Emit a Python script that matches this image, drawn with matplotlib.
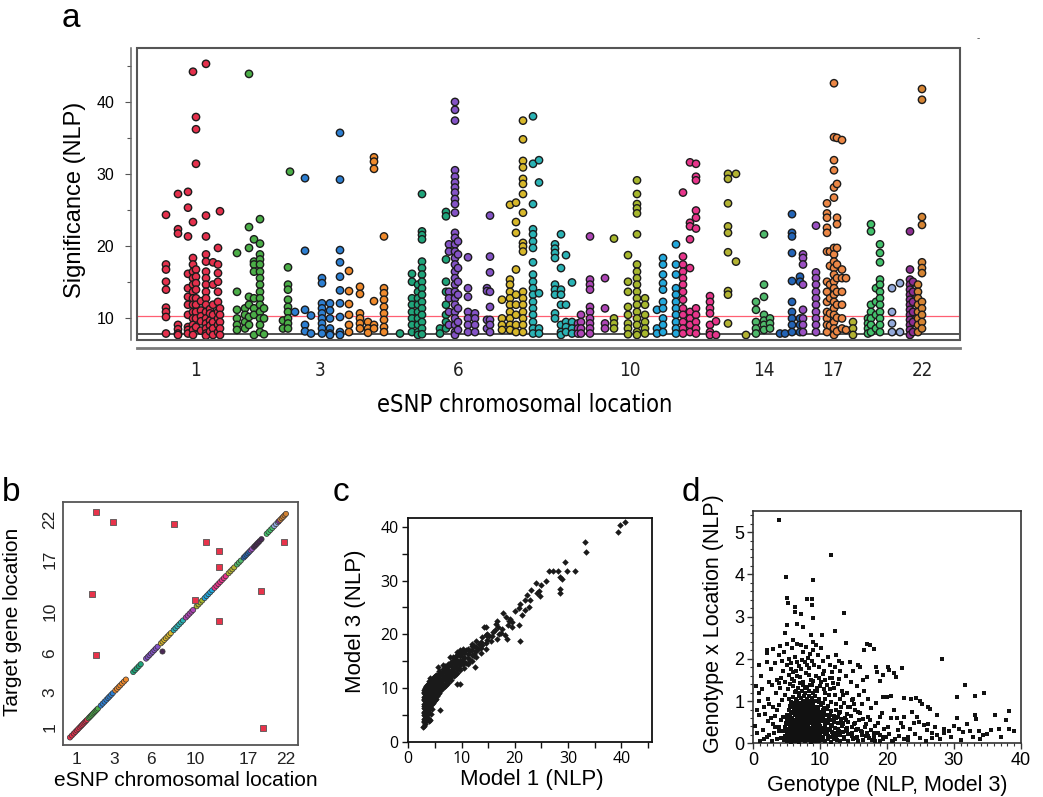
import matplotlib
matplotlib.use("Agg")
import matplotlib.pyplot as plt
from matplotlib import font_manager
from matplotlib.patches import Rectangle
from matplotlib.ticker import MultipleLocator, FixedLocator

# ------------------------------------------------------------------ data
chrom_colors = {1: '#e5304c', 2: '#4bae47', 3: '#2d7fd2', 4: '#f08a2c', 5: '#1fa47a',
                6: '#8453c6', 7: '#d8b82b', 8: '#2ab3b5', 9: '#ae45b6', 10: '#a7b72d',
                11: '#22a8dc', 12: '#e7358b', 13: '#b3b332', 14: '#4fb96b', 15: '#2364b6',
                16: '#9a50c2', 17: '#ec8745', 18: '#43c26c', 19: '#94aadb', 20: '#8f2f93',
                21: '#4a2a55', 22: '#d58433'}

# panel a: genome position of eSNP (arbitrary genome units) and significance
chrom_tick_labels = ['1', '3', '6', '10', '14', '17', '22']
a_chrom_tick_pos = [58, 183, 321, 493, 627, 696, 785]
black_line_nlp = 7.7
red_line_nlp = 10.3

a_columns = [
    (1, 29, [24.3, 17.4, 16.7, 15.0, 13.9, 11.4, 10.8, 10.1, 7.8]),
    (1, 41, [27.2, 22.3, 21.7, 9.0, 8.4, 7.8, 7.6]),
    (1, 51, [27.5, 25.3, 21.3, 16.1, 14.1, 12.9, 11.8, 10.4, 8.7, 8.3, 7.8]),
    (1, 56, [44.2, 23.3, 18.3, 17.4, 16.4, 15.5, 14.6, 13.6, 12.7, 11.8, 10.8, 9.9, 9.0, 8.3, 7.6]),
    (1, 59, [37.9, 36.2, 31.4, 16.7, 15.7, 14.8, 13.9, 12.7, 11.8, 10.8, 9.9, 8.7]),
    (1, 64, [12.3, 11.0, 10.2, 9.5, 8.2]),
    (1, 69, [45.3, 24.2, 21.3, 18.8, 17.8, 16.4, 15.5, 14.6, 13.6, 12.7, 11.8, 10.8, 9.9, 9.2, 8.5, 7.8, 7.5]),
    (1, 73, [11.2, 10.6, 9.6, 8.9, 8.1]),
    (1, 76, [17.7, 14.6, 11.8, 10.4, 9.4, 8.5, 7.6]),
    (1, 81, [19.7, 17.4, 16.2, 15.0, 13.6, 12.2, 10.8, 9.9, 9.0, 8.0]),
    (1, 83, [24.8, 11.3, 10.4, 9.4, 8.5, 7.6]),
    (2, 100, [19.0, 13.6, 11.1, 9.9, 9.0, 8.3]),
    (2, 108, [11.3, 10.4, 9.4, 8.5]),
    (2, 112, [43.9, 22.6, 19.7, 12.9, 11.8, 10.1, 9.0]),
    (2, 117, [20.9, 17.8, 17.4, 16.4, 12.7, 11.3, 10.4, 7.6]),
    (2, 123, [23.7, 20.3, 18.8, 18.1, 17.4, 16.4, 15.5, 14.6, 13.6, 12.7, 11.8, 10.8, 9.9, 9.0, 8.0]),
    (2, 127, [11.3, 9.9, 7.7]),
    (2, 146, [9.6, 8.5]),
    (2, 151, [17.0, 14.6, 13.9, 12.5, 11.5, 10.8, 9.9, 9.2, 8.5]),
    (2, 153, [30.3]),
    (3, 158, [10.8]),
    (3, 168, [29.4, 19.3, 11.1, 9.0, 8.1]),
    (3, 174, [10.3, 7.8]),
    (3, 185, [15.5, 14.8, 12.0, 11.3, 10.6, 9.9, 9.2, 8.5, 7.8]),
    (3, 193, [12.0, 11.0, 9.9, 8.5, 7.8, 7.6]),
    (3, 203, [35.7, 29.2, 19.4, 17.7, 15.7, 13.8, 12.0, 10.1, 8.0, 7.6]),
    (4, 212, [16.5, 13.7, 11.9, 10.4, 9.0, 8.0]),
    (4, 223, [14.3, 13.3, 10.6, 9.9, 9.2, 8.5]),
    (4, 231, [9.4, 8.5, 7.9]),
    (4, 237, [32.3, 31.7, 30.7, 12.3, 9.0, 8.5]),
    (4, 247, [21.3, 14.1, 13.4, 12.5, 11.5, 10.6, 9.7, 8.7, 8.0]),
    (5, 263, [7.8]),
    (5, 275, [16.1, 15.0, 12.7, 11.8, 10.8, 9.9, 9.0, 8.0]),
    (5, 281, [14.6, 13.6, 12.7, 11.8, 10.8, 9.9, 9.0, 8.0, 7.6]),
    (5, 285, [27.2, 22.0, 21.5, 20.9, 17.8, 16.9, 16.0, 15.0, 14.1, 13.2, 12.2, 11.3, 10.4, 9.4, 8.5, 7.7]),
    (5, 303, [8.5, 7.8]),
    (5, 309, [24.7, 24.1, 18.1, 15.0, 13.6, 11.8, 10.4, 9.4, 8.5]),
    (6, 312, [20.2, 19.2, 13.6, 12.7, 10.8, 9.0]),
    (6, 318, [40.0, 38.9, 37.4, 30.5, 29.6, 28.8, 28.1, 27.4, 26.5, 25.8, 24.6, 21.8, 21.1, 20.2,
              19.2, 18.3, 17.4, 16.4, 15.5, 14.6, 13.6, 12.7, 11.8, 10.8, 9.9, 9.0, 8.0, 7.6]),
    (6, 321, [20.6, 18.8, 16.9, 15.0, 13.2, 11.3, 9.4, 8.3]),
    (6, 331, [18.4, 14.1, 12.9, 10.8, 9.9, 9.0, 8.0]),
    (6, 338, [10.6, 9.9, 9.0, 8.0]),
    (6, 350, [14.1, 13.7, 9.7, 8.5]),
    (6, 353, [24.2, 18.5, 16.3, 13.6, 11.5, 9.7, 9.0, 8.0]),
    (7, 365, [12.5, 9.9, 9.0, 8.3]),
    (7, 373, [25.7, 15.3, 14.6, 13.6, 12.7, 11.8, 10.8, 9.9, 9.0, 8.3]),
    (7, 379, [26.0, 23.3, 21.8, 16.7, 13.2, 11.8, 10.4, 9.0, 8.0]),
    (7, 386, [37.4, 34.8, 31.8, 30.9, 29.3, 28.6, 27.2, 24.6, 20.4, 19.9, 19.2, 13.6, 12.7, 11.8,
              10.8, 9.9, 9.0, 8.0]),
    (8, 396, [38.0, 31.4, 25.8, 22.3, 21.6, 20.6, 19.7, 17.7, 16.0, 15.0, 14.1, 13.2, 12.2, 11.3,
              10.4, 9.4, 8.5, 7.8]),
    (8, 402, [31.9, 28.8, 13.4, 8.5, 7.8]),
    (8, 418, [20.2, 19.6, 19.0, 18.3, 14.6, 13.9, 13.2, 10.6, 9.9]),
    (8, 424, [21.6, 16.9, 13.9, 13.2, 11.8, 9.0, 8.0, 7.6]),
    (8, 429, [18.7, 11.8, 9.4, 8.7, 8.0]),
    (8, 435, [14.9, 9.4, 8.5, 7.8]),
    (9, 441, [9.2, 8.5, 7.8]),
    (9, 444, [10.4, 9.4, 8.5, 7.8]),
    (9, 453, [21.3, 15.3, 14.6, 13.9, 11.5, 10.8, 9.9, 9.2, 8.5, 7.8]),
    (9, 468, [15.5, 11.3, 9.2, 8.5]),
    (10, 477, [21.0, 9.9, 9.2, 8.5]),
    (10, 491, [18.7, 15.0, 13.6, 11.5, 10.4, 9.2, 8.5, 7.7]),
    (10, 500, [29.1, 27.2, 25.8, 25.2, 24.5, 21.6, 17.4, 16.4, 15.5, 14.6, 13.6, 12.7, 11.8, 10.8,
               9.9, 9.0, 8.0, 7.6]),
    (10, 508, [12.7, 11.8, 10.4, 9.4, 8.5, 7.8]),
    (11, 520, [11.1, 8.5, 7.8]),
    (11, 526, [18.3, 17.4, 16.0, 14.8, 13.9, 12.2, 11.3, 9.9, 9.0, 8.0]),
    (11, 539, [20.2, 17.4, 16.0, 14.1, 13.2, 12.2, 11.3, 10.4, 9.4, 8.5, 7.8]),
    (12, 546, [27.4, 18.5, 17.4, 16.4, 15.5, 14.6, 13.6, 12.5, 11.3, 10.4, 9.4, 8.5, 7.8]),
    (12, 553, [31.6, 23.2, 22.7, 20.9, 16.9, 10.8, 9.9, 9.0, 8.0]),
    (12, 559, [31.4, 29.6, 29.1, 24.9, 23.9, 22.4, 11.3, 10.4, 9.4, 8.5, 7.8]),
    (12, 573, [13.0, 12.2, 11.3, 10.6, 9.0, 8.0, 7.6]),
    (12, 579, [9.5, 7.6]),
    (13, 591, [30.0, 29.3, 25.9, 22.7, 21.8, 19.1, 13.7, 13.2, 9.2]),
    (13, 599, [30.0, 17.8]),
    (13, 609, [7.6]),
    (14, 619, [12.2, 11.1, 9.4, 8.5, 7.8]),
    (14, 627, [21.6, 14.6, 12.9, 10.4, 9.6, 9.0, 8.3]),
    (14, 633, [9.9, 9.2, 8.5]),
    (15, 643, [7.8]),
    (15, 648, [7.8]),
    (15, 655, [24.4, 21.8, 21.3, 19.0, 15.1, 12.2, 10.8, 9.9, 9.0, 8.0]),
    (15, 663, [15.7, 15.0, 9.9, 9.0, 8.0]),
    (16, 666, [18.8, 18.3, 17.4, 14.6, 11.1, 9.9, 9.0, 8.0]),
    (16, 679, [22.8, 16.3, 15.5, 14.6, 13.6, 12.7, 11.8, 10.8, 9.9, 9.0, 8.0]),
    (17, 690, [25.9, 24.5, 23.9, 22.5, 21.8, 19.2, 15.0, 13.6, 12.2, 10.8, 9.9, 9.0, 8.0]),
    (17, 693, [19.2, 17.2, 14.6, 12.7, 10.6, 8.9]),
    (17, 697, [42.6, 35.1, 31.9, 30.5, 28.1, 26.7, 19.7, 18.8, 17.8, 16.9, 16.0, 15.0, 14.1, 13.2,
               12.2, 11.3, 10.4, 9.4, 8.5, 7.6]),
    (17, 700, [35.0, 28.6, 23.9, 23.0, 19.7, 17.4, 15.5, 13.6, 11.8, 10.0, 8.1]),
    (17, 705, [34.7, 16.7, 15.5, 13.6, 11.8, 9.9, 8.5]),
    (17, 709, [15.5, 8.3]),
    (13, 716, [9.4, 8.5, 7.6]),
    (18, 731, [9.9, 9.2, 8.5, 7.8]),
    (18, 734, [23.0, 22.0, 11.8, 10.8, 9.9, 9.0, 8.0]),
    (18, 739, [14.1, 12.2, 10.4, 8.5]),
    (18, 743, [20.2, 19.0, 17.7, 15.3, 14.6, 13.6, 12.7, 11.8, 10.8, 9.9, 9.0, 8.0]),
    (19, 755, [14.1, 10.8, 9.2, 8.0]),
    (19, 763, [14.8, 8.0]),
    (20, 773, [22.0, 16.7, 15.3, 14.6, 13.9, 13.2, 12.5, 11.8, 11.1, 10.4, 9.7, 9.0, 8.3, 7.6]),
    (20, 776, [15.0, 13.6, 12.2, 10.8, 9.4, 8.0]),
    (22, 781, [14.6, 13.6, 12.7, 11.8, 10.8, 9.9, 9.0, 8.0]),
    (22, 785, [41.8, 40.3, 24.0, 22.9, 17.7, 16.9, 16.2, 12.2, 11.3, 10.4, 9.4, 8.5]),
]

# panel b: eSNP location vs target gene location (genome units, 0-100)
b_x_tick_pos = [6.0, 21.8, 37.4, 56.3, 79.0, 94.9]
b_y_tick_pos = [7.3, 21.9, 37.9, 54.8, 76.3, 92.7]
b_tick_labels = ['1', '3', '6', '10', '17', '22']
b_cis_chrom = ([1] * 13 + [2] * 9 + [3] * 8 + [4] * 7 + [5] * 5 + [6] * 8 + [7] * 7 + [8] * 6 +
               [9] * 5 + [10] * 4 + [11] * 5 + [12] * 7 + [13] * 4 + [14] * 3 + [15] * 5 +
               [16] * 2 + [21] * 6 + [18] * 4 + [19] * 3 + [20] * 1 + [22] * 5)
b_cis_esnp_pos = [3.1, 3.9, 4.7, 5.4, 6.0, 6.6, 7.2, 7.8, 8.3, 8.8, 9.3, 9.8, 10.3,
                  11.0, 11.5, 12.0, 12.5, 13.0, 13.5, 14.0, 14.5, 15.0,
                  16.2, 17.0, 17.8, 18.6, 19.3, 19.9, 20.6, 21.3,
                  22.4, 23.1, 23.8, 24.5, 25.3, 26.1, 26.9,
                  30.0, 30.8, 31.6, 32.4, 33.2,
                  35.5, 36.2, 36.9, 37.6, 38.3, 39.0, 39.7, 40.4,
                  41.8, 42.5, 43.2, 43.9, 44.6, 45.3, 46.0,
                  47.2, 48.0, 48.8, 49.6, 50.4, 51.2,
                  52.4, 53.2, 54.0, 54.8, 55.5,
                  57.0, 57.8, 58.6, 59.4,
                  60.4, 61.2, 62.0, 62.8, 63.6,
                  64.6, 65.4, 66.2, 67.0, 67.8, 68.6, 69.4,
                  70.6, 71.4, 72.2, 73.0,
                  74.2, 75.0, 75.8,
                  77.0, 77.6, 78.2, 78.8, 79.4,
                  80.0, 80.6,
                  81.4, 82.0, 82.6, 83.2, 83.8, 84.6,
                  86.8, 87.6, 88.4, 89.2,
                  90.0, 90.8, 91.6,
                  92.0,
                  92.6, 93.2, 93.8, 94.4, 95.0]
b_cis_gene_pos = b_cis_esnp_pos  # cis: target gene sits at the eSNP location
b_near_esnp = [42.1]
b_near_gene = [38.8]
b_trans_esnp = [14.2, 21.5, 47.4, 61.0, 66.6, 66.6, 12.3, 56.3, 84.3, 66.6, 14.2, 94.2, 85.4]
b_trans_gene = [95.9, 91.5, 90.7, 83.6, 79.7, 73.0, 61.9, 59.6, 63.3, 51.0, 37.0, 83.6, 7.1]

# panel c: Model 1 vs Model 3 NLP
c_sparse = [(40.6, 40.9), (39.7, 40.3), (39.4, 39.0), (33.1, 37.2), (33.3, 35.4), (29.5, 33.5),
            (31.25, 31.8), (29.8, 31.8), (28.1, 31.8), (27.2, 31.8), (26.4, 31.8), (28.4, 30.7),
            (28.9, 30.2), (28.4, 28.4), (28.5, 27.6), (25.8, 29.9), (25.0, 29.2), (23.9, 29.6),
            (23.1, 28.2), (24.6, 28.1), (24.8, 27.2), (24.1, 27.6), (22.2, 27.3), (22.8, 26.4),
            (21.9, 26.4), (20.9, 25.6), (20.8, 24.9), (20.0, 24.4), (22.0, 24.5), (22.7, 25.0),
            (21.3, 23.6), (19.1, 22.8), (19.5, 22.2), (18.75, 21.8), (19.4, 21.3), (17.8, 23.9),
            (18.4, 23.3), (20.8, 21.8), (20.9, 18.7), (18.6, 19.1), (16.7, 22.5), (16.4, 21.9),
            (16.9, 21.3), (15.9, 20.4), (17.4, 20.2), (15.6, 18.8), (16.6, 19.1), (14.2, 21.3),
            (14.7, 20.1), (15.2, 19.6), (13.75, 19.4), (12.8, 18.8), (13.3, 18.2), (12.5, 13.9),
            (11.9, 17.9), (10.9, 17.0), (10.0, 16.5), (9.1, 16.7), (9.8, 10.8), (8.4, 15.7),
            (7.8, 15.7), (7.5, 14.5), (6.6, 14.2), (5.6, 13.9), (5.9, 5.9), (3.9, 11.3),
            (3.4, 10.2), (4.1, 4.0), (2.8, 2.8), (10.8, 14.6), (11.5, 15.2), (12.3, 16.4),
            (13.0, 17.3), (13.9, 18.0), (14.8, 19.0), (15.8, 19.6), (16.2, 20.8), (17.0, 20.0),
            (17.5, 21.0), (18.2, 19.8), (19.0, 22.5)]
c_dense_columns = [
    (2.9, [3.0, 3.6, 4.3, 5.0, 5.6, 6.3, 7.0, 7.7, 8.4, 9.1, 9.7]),
    (3.0, [3.9, 5.3, 6.6, 8.0, 9.3]),
    (3.1, [3.3, 4.0, 4.7, 5.4, 6.1, 6.8, 7.5, 8.2, 8.9, 9.6, 10.0]),
    (3.2, [4.4, 5.7, 7.1, 8.5, 9.8]),
    (3.3, [3.8, 4.5, 5.2, 5.9, 6.6, 7.3, 8.0, 8.7, 9.4, 10.1]),
    (3.4, [4.9, 6.2, 7.6, 9.0, 10.3]),
    (3.5, [4.2, 5.0, 5.8, 6.5, 7.2, 7.9, 8.6, 9.3, 10.0, 10.5]),
    (3.65, [5.5, 6.8, 8.1, 9.5, 10.8]),
    (3.8, [3.8, 5.3, 6.1, 6.9, 7.6, 8.3, 9.0, 9.7, 10.4]),
    (3.95, [4.3, 6.5, 7.9, 9.2, 10.9]),
    (4.1, [6.4, 7.2, 8.0, 8.7, 9.4, 10.1, 10.8, 11.8]),
    (4.25, [5.2, 7.5, 8.9, 10.5, 11.5]),
    (4.4, [6.0, 7.0, 7.8, 8.6, 9.3, 10.0, 10.7, 11.3]),
    (4.6, [7.2, 8.3, 9.6, 10.9, 11.9]),
    (4.8, [7.6, 8.4, 9.2, 9.9, 10.6, 11.3, 12.0]),
    (5.0, [7.8, 9.0, 10.3, 11.5, 12.2]),
    (5.2, [8.0, 8.9, 9.7, 10.4, 11.1, 11.8, 12.4]),
    (5.4, [8.5, 9.9, 11.0, 12.0]),
    (5.6, [8.8, 9.6, 10.4, 11.1, 11.8, 12.5]),
    (5.8, [9.0, 10.5, 11.4, 12.6, 13.2]),
    (6.0, [9.4, 10.2, 11.0, 11.7, 12.4, 13.0]),
    (6.2, [9.8, 11.2, 12.6]),
    (6.5, [10.0, 10.8, 11.6, 12.3, 13.0, 13.6]),
    (6.8, [10.4, 11.9, 13.2, 14.0]),
    (7.0, [10.5, 11.3, 12.1, 12.8, 13.5]),
    (7.3, [11.4, 12.3, 13.9]),
    (7.5, [11.0, 11.8, 12.6, 13.3, 14.1]),
    (7.8, [11.9, 13.0, 14.5]),
    (8.0, [11.5, 12.4, 13.2, 14.0, 14.8]),
    (8.3, [12.8, 13.6, 15.0]),
    (8.6, [12.2, 13.0, 13.9, 14.6, 15.5]),
    (8.9, [12.6, 14.2, 15.1, 16.0]),
    (9.2, [10.8, 12.8, 13.6, 14.5, 15.3, 16.2]),
    (9.5, [13.8, 14.9, 16.4]),
    (9.8, [13.3, 14.2, 15.1, 16.0, 17.0]),
    (10.2, [14.4, 15.4, 17.2]),
    (10.5, [13.8, 14.9, 15.8, 16.6]),
    (11.2, [14.5, 15.6, 16.4, 17.2]),
    (11.6, [15.0, 16.9]),
    (12.0, [15.0, 16.1, 17.0, 18.2]),
    (12.4, [16.0, 17.8]),
    (12.8, [15.8, 16.8, 17.6]),
    (13.6, [16.5, 17.5, 18.5]),
    (14.5, [17.2, 18.4, 19.8, 21.3]),
]

# panel d: Genotype NLP (Model 3) vs Genotype x Location NLP
d_sparse = [(3.9, 5.29), (11.6, 4.47), (4.9, 3.94), (9.0, 3.87), (5.0, 3.45), (5.2, 3.31),
            (8.0, 3.42), (8.8, 3.42), (8.8, 3.28), (6.2, 3.23), (6.3, 3.11), (7.2, 3.06),
            (8.9, 2.97), (13.5, 3.09), (5.0, 2.80), (6.5, 2.83), (7.4, 2.76), (12.2, 2.65),
            (10.3, 2.56), (8.6, 2.56), (4.7, 2.60), (13.8, 2.38), (17.0, 2.35), (17.4, 2.33),
            (18.0, 2.24), (16.5, 2.20), (28.3, 2.00), (2.0, 2.20), (2.0, 2.14), (3.0, 2.24),
            (3.8, 2.09), (4.3, 1.95), (5.6, 1.90), (6.4, 1.72), (0.9, 1.85), (2.1, 1.93),
            (12.8, 1.95), (13.2, 1.90), (14.4, 1.93), (15.7, 1.85), (15.9, 1.81), (18.3, 1.80),
            (20.2, 1.81), (22.3, 1.79), (18.5, 1.69), (19.4, 1.61), (20.3, 1.73), (21.4, 1.56),
            (21.1, 1.67), (19.0, 1.48), (16.4, 1.51), (17.0, 1.57), (11.7, 1.69), (11.5, 1.54),
            (10.4, 1.65), (12.2, 1.81), (0.4, 1.35), (1.3, 1.28), (0.9, 1.20), (2.4, 1.45),
            (3.8, 1.42), (20.0, 1.10), (20.6, 1.12), (19.4, 1.10), (22.6, 1.08), (23.6, 1.04),
            (24.4, 1.08), (24.9, 1.01), (25.2, 0.94), (26.1, 0.85), (26.4, 0.82), (27.5, 0.66),
            (31.7, 1.39), (30.4, 1.10), (33.2, 1.13), (34.5, 1.20), (33.2, 0.66), (33.3, 0.57),
            (36.1, 0.66), (38.3, 0.77), (37.8, 0.54), (36.7, 0.33), (38.3, 0.35), (35.6, 0.31),
            (33.8, 0.28), (34.4, 0.20), (33.9, 0.11), (32.4, 0.29), (31.3, 0.26), (30.8, 0.35),
            (30.0, 0.41), (29.5, 0.16), (28.5, 0.35), (28.5, 0.24), (27.5, 0.20), (26.7, 0.24),
            (26.0, 0.31), (25.5, 0.43), (24.5, 0.63), (24.0, 0.47), (23.5, 0.35), (23.1, 0.16),
            (22.6, 0.63), (22.1, 0.47), (21.6, 0.31), (21.1, 0.79), (20.6, 0.59), (20.1, 0.39),
            (19.6, 0.16), (19.2, 0.71), (18.6, 0.47), (18.1, 0.24), (17.6, 0.83), (17.1, 0.63),
            (16.7, 0.39), (16.3, 0.94), (15.7, 0.75), (15.2, 0.47), (14.7, 1.02), (14.2, 0.87),
            (13.7, 0.59), (0.5, 0.79), (0.9, 0.67), (0.6, 0.24), (1.4, 0.31), (2.0, 0.16),
            (2.6, 0.59), (3.1, 0.24), (2.4, 0.94), (3.6, 0.79), (3.8, 0.39), (4.3, 1.02),
            (4.4, 0.63), (4.6, 0.12), (4.2, 1.55), (5.3, 1.62), (6.1, 1.48), (7.0, 1.58),
            (7.9, 1.66), (8.6, 1.50), (9.4, 1.60), (10.2, 1.45), (11.0, 1.38), (5.6, 1.75),
            (6.9, 1.82), (7.7, 1.92), (8.4, 1.78), (9.1, 1.85), (10.6, 1.72), (11.8, 1.55),
            (12.6, 1.40), (13.3, 1.25), (14.0, 1.18), (6.3, 2.05), (7.4, 2.15), (8.2, 2.02),
            (9.0, 2.22), (9.7, 2.08), (10.5, 1.95), (5.0, 2.35), (6.0, 2.45), (7.1, 2.32),
            (8.9, 2.40), (4.4, 1.70), (3.5, 1.50), (2.8, 1.38), (12.9, 1.05), (13.6, 0.95),
            (14.4, 0.85), (15.2, 0.78), (16.0, 0.72), (13.0, 0.75), (14.6, 0.65), (15.8, 0.55),
            (16.8, 0.45), (17.6, 0.32), (18.6, 0.25), (19.8, 0.14), (21.2, 0.10), (12.2, 1.15),
            (11.5, 1.28), (10.8, 1.20), (3.8, 0.90), (4.2, 0.55), (3.9, 0.30), (4.1, 0.12),
            (3.3, 0.65), (2.9, 0.45), (1.6, 0.10), (2.4, 0.20),
            (1.2, 1.60), (2.6, 1.75), (3.3, 1.90), (4.0, 2.30), (4.6, 2.15), (5.3, 2.00),
            (5.8, 2.25), (6.6, 2.35), (7.3, 1.98), (7.9, 2.28), (8.5, 2.12), (9.4, 2.32),
            (10.1, 2.25), (11.1, 2.05), (12.4, 2.08), (5.1, 1.85), (5.9, 1.68), (6.5, 1.92),
            (7.2, 1.75), (8.0, 1.85), (8.8, 1.95), (9.8, 1.80), (11.4, 1.85), (12.9, 1.70),
            (13.8, 1.60), (14.9, 1.70), (4.7, 1.45), (5.5, 1.40), (6.6, 1.60), (7.5, 1.45),
            (8.3, 1.62), (9.0, 1.48), (9.9, 1.55), (10.7, 1.50), (11.9, 1.42), (12.8, 1.52),
            (14.6, 1.45), (15.5, 1.35), (16.5, 1.25), (5.2, 1.28), (5.8, 1.52), (6.4, 1.25),
            (7.0, 1.42), (7.7, 1.30), (8.5, 1.38), (9.2, 1.25), (10.0, 1.35), (10.6, 1.28),
            (11.3, 1.15), (12.0, 1.30), (13.4, 1.15), (14.9, 1.05), (15.8, 1.15), (17.2, 1.05),
            (18.3, 0.95), (4.8, 1.15), (5.4, 1.05), (10.8, 1.05), (11.6, 0.98), (12.4, 0.92),
            (2.2, 1.05), (3.0, 0.85), (1.8, 0.70), (3.4, 1.20), (4.0, 1.30), (0.3, 0.40),
            (1.0, 0.05), (2.8, 0.05), (3.5, 0.10), (3.2, 0.38), (2.2, 0.52), (1.6, 0.85),
            (0.8, 1.00), (12.6, 0.62), (13.2, 0.48), (13.9, 0.35), (14.5, 0.22), (15.3, 0.12),
            (16.1, 0.30), (16.9, 0.18), (17.5, 0.55), (18.2, 0.42), (18.9, 0.62), (19.5, 0.35),
            (20.3, 0.22), (20.9, 0.05), (21.8, 0.18), (22.4, 0.38), (23.2, 0.08), (24.2, 0.22),
            (25.0, 0.12), (25.8, 0.06), (26.8, 0.12), (17.8, 0.08), (16.4, 0.58), (15.0, 0.92),
            (13.1, 0.85), (14.0, 0.70), (15.5, 0.35), (19.0, 0.05), (21.5, 0.60), (23.8, 0.75),
            (24.8, 0.50), (26.2, 0.45), (27.2, 0.38), (28.0, 0.10), (29.2, 0.30), (31.0, 0.08),
            (32.8, 0.15), (35.0, 0.22), (37.0, 0.15), (39.0, 0.30), (30.5, 0.60), (32.0, 0.45)]
d_dense_rows = [
    ([4.6, 5.0, 5.3, 5.6, 5.9, 6.2, 6.5, 6.8, 7.1, 7.4, 7.7, 8.0, 8.3, 8.6, 8.9, 9.2, 9.5, 9.8, 10.1,
      10.4, 10.8, 11.2, 11.6, 12.0, 12.5, 13.0, 13.6, 14.2, 14.9, 15.6, 16.4, 17.3, 18.2, 19.4, 20.8, 22.5],
     [.08, .05, .11, .04, .09, .06, .12, .04, .08, .10, .05, .07, .12, .04, .09, .06, .10, .05, .08,
      .12, .06, .09, .04, .10, .07, .05, .09, .06, .11, .05, .08, .12, .06, .09, .05, .10]),
    ([4.8, 5.2, 5.5, 5.8, 6.1, 6.4, 6.7, 7.0, 7.3, 7.6, 7.9, 8.2, 8.5, 8.8, 9.1, 9.4, 9.7, 10.0, 10.3,
      10.7, 11.1, 11.5, 11.9, 12.4, 12.9, 13.5, 14.1, 14.8, 15.5, 16.3, 17.1, 18.0, 19.0],
     [.18, .15, .21, .17, .14, .20, .16, .19, .14, .22, .17, .15, .20, .18, .14, .21, .16, .19, .15,
      .22, .17, .14, .20, .16, .19, .15, .21, .17, .14, .20, .18, .15, .19]),
    ([4.5, 5.0, 5.4, 5.7, 6.0, 6.3, 6.6, 6.9, 7.2, 7.5, 7.8, 8.1, 8.4, 8.7, 9.0, 9.3, 9.6, 9.9, 10.2,
      10.6, 11.0, 11.4, 11.8, 12.3, 12.8, 13.4, 14.0, 14.7, 15.4, 16.2, 17.0],
     [.28, .25, .31, .26, .24, .30, .27, .32, .25, .29, .24, .31, .27, .26, .30, .24, .29, .32, .26,
      .28, .24, .31, .27, .25, .30, .26, .29, .24, .31, .27, .25]),
    ([4.7, 5.1, 5.5, 5.8, 6.1, 6.4, 6.7, 7.0, 7.3, 7.6, 7.9, 8.2, 8.5, 8.8, 9.1, 9.4, 9.7, 10.0, 10.4,
      10.8, 11.2, 11.7, 12.2, 12.7, 13.3, 14.0, 14.8, 15.7],
     [.38, .35, .41, .36, .34, .40, .37, .42, .35, .39, .34, .41, .37, .36, .40, .34, .39, .42, .36,
      .38, .34, .41, .37, .35, .40, .36, .39, .34]),
    ([4.9, 5.3, 5.7, 6.0, 6.3, 6.6, 6.9, 7.2, 7.5, 7.8, 8.1, 8.4, 8.7, 9.0, 9.3, 9.6, 9.9, 10.3, 10.7,
      11.1, 11.6, 12.1, 12.7, 13.4, 14.2, 15.1],
     [.48, .45, .51, .46, .44, .50, .47, .52, .45, .49, .44, .51, .47, .46, .50, .44, .49, .52, .46,
      .48, .44, .51, .47, .45, .50, .46]),
    ([5.0, 5.4, 5.8, 6.1, 6.4, 6.7, 7.0, 7.3, 7.6, 7.9, 8.2, 8.5, 8.8, 9.1, 9.4, 9.7, 10.0, 10.4, 10.8,
      11.3, 11.8, 12.4, 13.1, 13.9],
     [.58, .55, .61, .56, .54, .60, .57, .62, .55, .59, .54, .61, .57, .56, .60, .54, .59, .62, .56,
      .58, .54, .61, .57, .55]),
    ([5.1, 5.5, 5.9, 6.2, 6.5, 6.8, 7.1, 7.4, 7.7, 8.0, 8.3, 8.6, 8.9, 9.2, 9.5, 9.8, 10.2, 10.6, 11.0,
      11.5, 12.1, 12.8],
     [.68, .65, .71, .66, .64, .70, .67, .72, .65, .69, .64, .71, .67, .66, .70, .64, .69, .72, .66,
      .68, .64, .71]),
    ([5.3, 5.7, 6.1, 6.4, 6.7, 7.0, 7.3, 7.6, 7.9, 8.2, 8.5, 8.8, 9.1, 9.4, 9.7, 10.1, 10.5, 11.0, 11.6, 12.3],
     [.78, .75, .81, .76, .74, .80, .77, .82, .75, .79, .74, .81, .77, .76, .80, .74, .79, .82, .76, .78]),
    ([5.5, 5.9, 6.3, 6.6, 6.9, 7.2, 7.5, 7.8, 8.1, 8.4, 8.7, 9.0, 9.3, 9.7, 10.1, 10.6, 11.2],
     [.88, .85, .91, .86, .84, .90, .87, .92, .85, .89, .84, .91, .87, .86, .90, .84, .89]),
    ([5.7, 6.1, 6.5, 6.8, 7.1, 7.4, 7.7, 8.0, 8.3, 8.6, 8.9, 9.3, 9.8, 10.4],
     [.98, .95, 1.01, .96, .94, 1.00, .97, 1.02, .95, .99, .94, 1.01, .97, .95]),
    ([5.9, 6.4, 6.8, 7.2, 7.6, 8.0, 8.4, 8.8, 9.3, 9.9],
     [1.10, 1.06, 1.13, 1.08, 1.12, 1.05, 1.11, 1.07, 1.12, 1.06]),
    ([6.2, 6.8, 7.3, 7.8, 8.3, 8.9, 9.6],
     [1.22, 1.18, 1.25, 1.20, 1.24, 1.19, 1.23]),
    ([6.0, 6.7, 7.4, 8.1, 8.8, 9.6],
     [1.35, 1.31, 1.38, 1.33, 1.37, 1.32]),
]

# ------------------------------------------------------------------ setup
W, H = 1043, 797
fig = plt.figure(figsize=(W / 100, H / 100), dpi=100)
names = {f.name for f in font_manager.fontManager.ttflist}
SANS = 'Liberation Sans' if 'Liberation Sans' in names else 'DejaVu Sans'
plt.rcParams['font.family'] = [SANS, 'DejaVu Sans']
if 'Liberation Sans Narrow' in names:
    NARROW = dict(family='Liberation Sans Narrow')
else:
    NARROW = dict(family='DejaVu Sans', stretch='condensed')
OPEN = 'Open Sans' if 'Open Sans' in names else SANS


def add_ax(x0, y0, x1, y1):
    return fig.add_axes([x0 / W, 1 - y1 / H, (x1 - x0) / W, (y1 - y0) / H])


def place_labels(ax, xpos, ypos):
    ax.xaxis.label.set_va('center')
    ax.yaxis.label.set_va('center')
    ax.yaxis.label.set_ha('center')
    ax.xaxis.set_label_coords(*xpos)
    ax.yaxis.set_label_coords(*ypos)


# ------------------------------------------------------------------ panel a
ax = add_ax(137, 48, 960, 340)
xs, ys, cs = [], [], []
for chrom, pos, vals in a_columns:
    for v in vals:
        xs.append(pos)
        ys.append(v)
        cs.append(chrom_colors[chrom])
ax.scatter(xs, ys, s=28, c=cs, edgecolors='#1c1c1c', linewidths=1.0, zorder=3)
ax.axhline(black_line_nlp, color='#333333', lw=1.2, zorder=2)
ax.axhline(red_line_nlp, color='#ff5f72', lw=0.9, zorder=2)
ax.set_xlim(0, 823)
ax.set_ylim(6.9, 47.5)
ax.spines['top'].set_visible(False)
ax.spines['right'].set_visible(False)
ax.spines['left'].set_position(('outward', 4.3))
ax.spines['left'].set_color('#666666')
ax.spines['left'].set_linewidth(1.1)
ax.spines['bottom'].set_position(('outward', 6))
ax.spines['bottom'].set_color('#7a7a7a')
ax.spines['bottom'].set_linewidth(2.0)
ax.add_patch(Rectangle((0, 0), 1, 1, transform=ax.transAxes, fill=False,
                       edgecolor='#555555', lw=1.5, zorder=5, clip_on=False))
ax.set_yticks([10, 20, 30, 40])
ax.yaxis.set_minor_locator(MultipleLocator(5))
ax.tick_params(axis='y', which='major', length=4, width=0.8, color='#555555',
               labelsize=11.5, pad=8)
ax.tick_params(axis='y', which='minor', length=3, width=0.8, color='#555555')
ax.set_xticks(a_chrom_tick_pos)
ax.set_xticklabels(chrom_tick_labels, fontsize=13.5, color='#222222', **NARROW)
ax.tick_params(axis='x', length=0, pad=9)
ax.set_ylabel('Significance (NLP)', fontsize=17)
ax.set_xlabel('eSNP chromosomal location', fontsize=17, **NARROW)
place_labels(ax, ((525 - 137) / 823, (340 - 405) / 292), ((75 - 137) / 823, (340 - 200) / 292))

# ------------------------------------------------------------------ panel b
bx = add_ax(62.7, 501.7, 297.7, 745)
bx.scatter(b_cis_esnp_pos, b_cis_gene_pos, s=14, c=[chrom_colors[k] for k in b_cis_chrom],
           edgecolors='#333333', linewidths=0.5, zorder=3)
bx.scatter(b_near_esnp, b_near_gene, s=14, c=chrom_colors[21], edgecolors='#333333',
           linewidths=0.5, zorder=3)
bx.scatter(b_trans_esnp, b_trans_gene, s=15, marker='s', c='#e8334a', edgecolors='#555555',
           linewidths=0.6, zorder=4)
bx.set_xlim(0, 100)
bx.set_ylim(0, 100)
for sp in bx.spines.values():
    sp.set_color('#555555')
    sp.set_linewidth(1.3)
bx.xaxis.set_major_locator(FixedLocator(b_x_tick_pos))
bx.yaxis.set_major_locator(FixedLocator(b_y_tick_pos))
bx.set_xticklabels(b_tick_labels, fontsize=12.5, color='#222222')
bx.set_yticklabels(b_tick_labels, fontsize=12.5, color='#222222', rotation=90, va='center')
bx.tick_params(axis='x', length=0, pad=5)
bx.tick_params(axis='y', length=0, pad=4)
bx.set_xlabel('eSNP chromosomal location', fontsize=15)
bx.set_ylabel('Target gene location', fontsize=15)
place_labels(bx, ((185.7 - 62.7) / 235, (745 - 780) / 243.3), ((13 - 62.7) / 235, (745 - 622) / 243.3))

# ------------------------------------------------------------------ panel c
cxa = add_ax(408.3, 517.7, 651.7, 741.7)
model1_nlp = [p[0] for p in c_sparse]
model3_nlp = [p[1] for p in c_sparse]
for xv, yvals in c_dense_columns:
    for yv in yvals:
        model1_nlp.append(xv)
        model3_nlp.append(yv)
cxa.scatter(model1_nlp, model3_nlp, s=11, marker='D', c='#1a1a1a', linewidths=0, zorder=3)
cxa.set_xlim(0, 45.7)
cxa.set_ylim(0, 41.7)
for sp in cxa.spines.values():
    sp.set_color('#111111')
    sp.set_linewidth(1.3)
cxa.xaxis.set_major_locator(MultipleLocator(10))
cxa.xaxis.set_minor_locator(MultipleLocator(5))
cxa.yaxis.set_major_locator(MultipleLocator(10))
cxa.yaxis.set_minor_locator(MultipleLocator(5))
cxa.tick_params(which='both', direction='out', length=4, width=1.0, color='#111111')
cxa.tick_params(which='major', labelsize=11.5, pad=3)
for lab in cxa.get_xticklabels() + cxa.get_yticklabels():
    lab.set_family([OPEN, 'DejaVu Sans'])
cxa.set_xlabel('Model 1 (NLP)', fontsize=16)
cxa.set_ylabel('Model 3 (NLP)', fontsize=16)
place_labels(cxa, ((531.7 - 408.3) / 243.4, (741.7 - 779) / 224), ((355 - 408.3) / 243.4, (741.7 - 621.7) / 224))

# ------------------------------------------------------------------ panel d
dxa = add_ax(753.3, 511, 1020.7, 743.3)
genotype_nlp = [p[0] for p in d_sparse]
gxl_nlp = [p[1] for p in d_sparse]
for rx, ry in d_dense_rows:
    for xv, yv in zip(rx, ry):
        genotype_nlp.append(xv)
        gxl_nlp.append(yv)
dxa.scatter(genotype_nlp, gxl_nlp, s=8, marker='s', c='#111111', linewidths=0, zorder=3)
dxa.set_xlim(0, 40)
dxa.set_ylim(0, 5.5)
for sp in dxa.spines.values():
    sp.set_color('#333333')
    sp.set_linewidth(1.2)
dxa.xaxis.set_major_locator(MultipleLocator(10))
dxa.xaxis.set_minor_locator(MultipleLocator(1))
dxa.yaxis.set_major_locator(MultipleLocator(1))
dxa.yaxis.set_minor_locator(MultipleLocator(0.2))
dxa.tick_params(which='major', direction='out', length=4.5, width=1.0, color='#333333',
                labelsize=13, pad=2)
dxa.tick_params(which='minor', direction='out', length=2.5, width=0.8, color='#333333')
dxa.set_xlabel('Genotype (NLP, Model 3)', fontsize=15.5)
dxa.set_ylabel('Genotype x Location (NLP)', fontsize=15.5)
place_labels(dxa, ((887.3 - 753.3) / 267.4, (743.3 - 785) / 232.3), ((713.3 - 753.3) / 267.4, (743.3 - 623.3) / 232.3))

# ------------------------------------------------------------------ panel letters
for letter, px, py in [('a', 71, 27), ('b', 11, 501), ('c', 341, 501), ('d', 691, 501)]:
    fig.text(px / W, 1 - py / H, letter, fontsize=24, ha='center', va='baseline')
fig.text(978 / W, 1 - 38 / H, '-', fontsize=7, ha='center', va='center', color='#444444')

fig.savefig('out.png', dpi=100)
